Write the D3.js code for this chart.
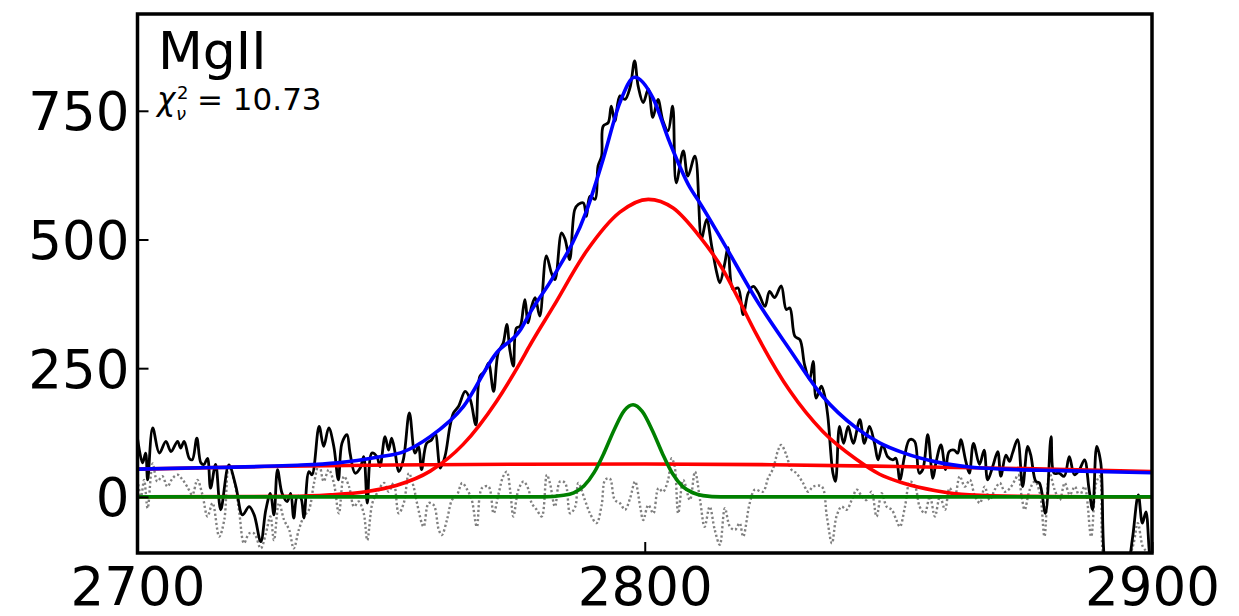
<!DOCTYPE html>
<html>
<head>
<meta charset="utf-8">
<script src="https://cdn.jsdelivr.net/npm/d3@7"></script>
<style>
  body { margin: 0; background: #fff; }
  svg text { font-family: "DejaVu Sans", sans-serif; fill: #000; }
</style>
</head>
<body>
<div class="chart-wrapper"></div>
<script>
// spectrum (wavelength, flux)
const specWave = [2700.0,2701.0,2701.6,2702.0,2703.0,2704.3,2705.6,2706.6,2707.9,2708.5,2709.2,2710.2,2710.8,2711.7,2712.5,2713.1,2713.8,2714.4,2715.4,2716.4,2718.0,2719.4,2720.7,2722.0,2723.0,2724.3,2725.3,2726.2,2726.9,2727.6,2728.5,2729.5,2730.2,2730.8,2731.5,2732.2,2732.8,2733.8,2734.4,2735.8,2736.7,2737.7,2738.7,2739.6,2740.3,2741.3,2741.9,2742.9,2743.9,2744.6,2745.3,2746.2,2747.2,2747.8,2748.8,2749.5,2750.1,2750.8,2751.5,2752.4,2753.6,2754.7,2755.4,2756.0,2757.0,2758.0,2758.7,2759.7,2760.6,2761.6,2762.3,2763.3,2764.6,2765.6,2766.7,2767.5,2768.5,2769.2,2770.2,2771.1,2772.1,2772.8,2773.4,2774.1,2774.7,2775.4,2776.1,2776.4,2777.0,2777.7,2778.4,2779.3,2780.6,2781.6,2782.3,2783.6,2784.3,2785.2,2786.2,2786.9,2787.9,2788.5,2789.2,2790.2,2790.8,2791.5,2791.8,2792.8,2793.4,2794.1,2795.1,2796.1,2797.1,2798.0,2798.7,2799.7,2800.7,2801.6,2802.6,2803.6,2804.6,2805.5,2806.2,2807.6,2808.5,2809.9,2811.2,2812.2,2813.2,2814.2,2814.8,2815.8,2816.4,2817.4,2818.4,2819.4,2820.4,2821.4,2822.4,2823.7,2824.6,2825.6,2826.9,2827.9,2828.6,2829.6,2830.6,2831.5,2832.5,2833.2,2833.8,2834.8,2835.5,2836.1,2837.1,2837.6,2838.4,2839.2,2840.1,2841.1,2842.4,2843.3,2844.3,2845.3,2846.0,2846.9,2847.9,2848.9,2849.5,2850.3,2851.2,2852.2,2853.2,2854.1,2854.8,2855.8,2856.8,2857.4,2858.4,2859.3,2860.0,2861.0,2861.7,2862.3,2863.3,2864.0,2864.8,2866.0,2866.9,2867.6,2868.6,2869.6,2870.2,2871.2,2871.9,2872.5,2873.5,2874.5,2875.5,2876.1,2877.1,2877.8,2879.0,2880.1,2880.7,2881.7,2882.7,2883.7,2884.7,2885.7,2886.7,2887.6,2888.3,2889.1,2889.9,2890.8,2893.0,2895.4,2896.2,2897.3,2898.1,2898.8,2899.5,2900.0];
const specFlux = [114,66,85,33,134,85,108,88,108,95,108,75,72,114,66,63,75,17,63,-25,62,20,-35,-19,-35,-87,-25,7,-35,53,7,-9,7,-41,1,-2,-41,49,43,137,98,134,98,33,104,121,85,46,56,78,-12,85,78,59,117,91,114,85,49,72,163,85,98,53,104,111,124,56,78,137,163,176,205,189,140,234,244,260,205,280,299,335,286,254,328,331,370,383,338,370,387,351,468,435,422,513,500,461,558,568,571,545,584,578,643,662,720,727,759,730,779,772,795,847,798,766,792,737,772,730,711,759,610,672,623,662,503,539,487,435,416,455,484,403,406,354,396,409,396,370,399,387,410,364,367,312,305,257,228,263,192,215,195,156,46,30,137,104,137,104,150,104,137,104,72,101,78,72,75,33,78,111,108,46,53,121,36,66,101,53,88,91,85,111,69,46,104,63,91,33,59,88,40,81,69,85,111,20,98,81,30,27,-32,117,46,46,40,78,43,53,72,14,-25,98,66,-140,-220,-130,-77,4,-51,-29,-109,-140];

// residual (dotted grey)
const residWave = [2700.0,2700.7,2701.3,2702.0,2703.0,2703.9,2704.9,2705.9,2706.9,2707.9,2708.9,2709.8,2710.8,2711.8,2712.8,2713.8,2714.8,2716.1,2717.1,2718.0,2719.0,2720.0,2721.0,2722.0,2723.0,2724.3,2725.3,2726.2,2726.9,2727.9,2728.9,2729.9,2730.8,2731.8,2732.8,2733.8,2734.8,2735.8,2736.7,2737.7,2738.7,2739.7,2740.7,2741.7,2742.7,2743.6,2744.6,2745.3,2746.3,2747.2,2748.6,2749.5,2750.5,2751.5,2752.5,2753.5,2754.5,2755.1,2756.4,2757.4,2758.4,2759.4,2760.0,2761.0,2762.0,2763.0,2764.0,2765.0,2765.9,2766.9,2767.9,2769.2,2770.2,2771.2,2772.1,2772.8,2773.5,2774.1,2775.1,2776.1,2777.1,2777.7,2778.7,2779.7,2780.7,2781.3,2782.3,2783.3,2784.3,2785.3,2786.3,2786.9,2788.2,2789.2,2790.5,2791.5,2792.2,2793.1,2794.1,2795.1,2796.1,2797.1,2798.1,2799.1,2799.7,2800.7,2801.7,2802.7,2803.6,2804.6,2805.3,2805.9,2806.6,2807.6,2808.9,2809.9,2810.9,2811.8,2812.8,2813.8,2814.8,2815.8,2816.8,2817.8,2818.7,2819.4,2820.7,2821.7,2823.3,2824.3,2825.3,2826.3,2826.9,2827.9,2828.9,2829.9,2831.2,2832.2,2833.2,2834.9,2835.9,2836.9,2837.8,2838.8,2839.8,2840.8,2841.8,2842.8,2843.7,2844.7,2845.7,2846.7,2847.7,2848.7,2849.6,2850.3,2851.3,2852.3,2853.3,2854.2,2855.2,2856.2,2857.2,2858.2,2859.2,2860.1,2861.1,2862.1,2863.1,2864.1,2865.1,2866.1,2867.0,2868.0,2869.0,2870.0,2871.0,2872.0,2873.0,2873.6,2874.3,2874.9,2875.9,2876.9,2877.9,2878.8,2879.8,2880.8,2881.8,2882.8,2883.8,2884.8,2885.7,2886.7,2888.0,2889.0,2889.7,2890.3,2892.0,2896.2,2897.2,2898.2,2899.2,2900.0];
const residFlux = [33,1,33,-22,65,30,40,20,36,43,33,20,4,33,4,-38,-12,-77,-45,59,33,-25,-90,-71,-71,-100,-71,-38,-84,-12,-45,-64,-100,-64,-38,-25,27,65,30,53,27,-32,40,20,-19,-9,-32,-84,-12,7,27,10,27,-32,-12,46,17,-12,-58,-12,-16,-64,-74,-45,-6,4,27,14,-6,-58,17,20,-32,7,40,49,10,-38,14,30,14,-12,-25,-38,43,27,-19,30,27,-32,-19,27,-6,-32,-51,-16,33,36,-6,-12,-25,-3,30,-19,-45,-16,-32,17,10,33,75,59,-32,33,-6,49,-6,-58,-19,-64,-93,-22,-58,-64,-51,-77,-12,14,10,36,55,91,101,82,53,46,27,10,20,20,-38,-90,-38,-19,-25,-6,14,1,-6,10,-38,7,-19,-25,-45,-58,-19,30,20,-19,-32,1,-38,1,-25,17,1,40,20,33,1,-12,20,-6,14,27,10,17,33,43,1,-25,14,30,7,-77,46,14,-6,27,4,20,1,20,-77,27,40,-110,-200,-97,-51,-97,-110,-150];

// fitted components
const totalWave = [2700,2715,2730,2739.4,2747.8,2752,2757.7,2764.2,2770.8,2775.4,2777.4,2782,2788.5,2791.8,2795.1,2798,2801.6,2804.9,2808.9,2810.8,2815.5,2822,2828.6,2835.1,2841.7,2846.3,2850.9,2857.4,2864,2870.5,2881.7,2900];
const totalFlux = [54,57,61,66,78,86,117,175,280,323,358,428,555,656,766,815,775,689,601,572,494,383,286,195,134,105,86,68,58,54,51,47];

const broadWave = [2700,2730,2738,2745,2751,2757.7,2764.2,2770.8,2775.4,2777.4,2782,2788.5,2795.1,2800.7,2805.6,2810.8,2815.5,2818.5,2822,2828.6,2835.1,2841.7,2846.3,2850.9,2857.4,2864,2875,2900];
const broadFlux = [0,1,4,10,22,50,102,186,260,295,370,477,553,578,561,506,440,384,316,206,127,73,44,27,12,4,1,0];

const contWave = [2700,2725,2750,2775,2800,2825,2850,2875,2900];
const contFlux = [54,59,62,63.5,64,62.5,59,55,49];

const narrowWave = [2700,2780,2784,2786,2788,2790,2792,2794,2796,2797.7,2799.5,2801.5,2803.5,2805.5,2807.5,2809.5,2811.5,2815,2900];
const narrowFlux = [0,0,3,8,21,47,86,131,168,179,166,129,84,45,20,8,2.5,0,0];

const xTicks = [2700, 2800, 2900];
const yTicks = [0, 250, 500, 750];
const lineName = 'MgII';
const chi2 = '10.73';

const W = 1239, H = 616;
const pLeft = 137.5, pRight = 1152, pTop = 14, pBottom = 553;

const svg = d3.select('.chart-wrapper').append('svg')
.attr('width', W)
.attr('height', H)

const x = d3.scaleLinear().domain([2700, 2900]).range([pLeft, pRight])
const y = d3.scaleLinear().domain([-109, 938]).range([pBottom, pTop])

svg.append('defs').append('clipPath').attr('id', 'plot-clip')
.append('rect')
.attr('x', pLeft).attr('y', pTop)
.attr('width', pRight - pLeft).attr('height', pBottom - pTop)

const zip = (ws, fs) => ws.map((w, i) => [w, fs[i]])

const rough = d3.line().x(d => x(d[0])).y(d => y(d[1])).curve(d3.curveCatmullRom.alpha(0.5))
const smooth = d3.line().x(d => x(d[0])).y(d => y(d[1])).curve(d3.curveMonotoneX)

let g = svg.append('g').attr('clip-path', 'url(#plot-clip)')

// residual
g.append('path')
.attr('d', rough(zip(residWave, residFlux)))
.attr('fill', 'none')
.attr('stroke', '#808080')
.attr('stroke-width', 2.4)
.attr('stroke-dasharray', '2.2,2.4')

// data
g.append('path')
.attr('d', rough(zip(specWave, specFlux)))
.attr('fill', 'none')
.attr('stroke', '#000')
.attr('stroke-width', 2.8)

// broad + continuum (red)
g.append('path')
.attr('d', smooth(zip(broadWave, broadFlux)))
.attr('fill', 'none')
.attr('stroke', '#ff0000')
.attr('stroke-width', 3.6)

g.append('path')
.attr('d', smooth(zip(contWave, contFlux)))
.attr('fill', 'none')
.attr('stroke', '#ff0000')
.attr('stroke-width', 3.6)

// narrow (green)
g.append('path')
.attr('d', smooth(zip(narrowWave, narrowFlux)))
.attr('fill', 'none')
.attr('stroke', '#008000')
.attr('stroke-width', 3.6)

// total model (blue)
g.append('path')
.attr('d', smooth(zip(totalWave, totalFlux)))
.attr('fill', 'none')
.attr('stroke', '#0000ff')
.attr('stroke-width', 3.6)

// axes, ticks pointing inward
let xAxis = svg.append('g')
.attr('transform', 'translate(0,' + pBottom + ')')
.call(d3.axisBottom(x).tickValues(xTicks).tickSize(-11).tickPadding(14).tickFormat(d3.format('d')))

let yAxis = svg.append('g')
.attr('transform', 'translate(' + pLeft + ',0)')
.call(d3.axisLeft(y).tickValues(yTicks).tickSize(-11).tickPadding(8).tickFormat(d3.format('d')))

svg.selectAll('.domain').remove()
svg.selectAll('.tick line').attr('stroke', '#000').attr('stroke-width', 2)
svg.selectAll('.tick text')
.style('font-family', '"DejaVu Sans", sans-serif')
.style('font-size', '53px')
.attr('fill', '#000')

xAxis.selectAll('.tick text').attr('dy', '0.71em')
yAxis.selectAll('.tick text').attr('dy', '0.36em')

// frame
svg.append('rect')
.attr('x', pLeft).attr('y', pTop)
.attr('width', pRight - pLeft).attr('height', pBottom - pTop)
.attr('fill', 'none')
.attr('stroke', '#000')
.attr('stroke-width', 3.5)

// labels
svg.append('text')
.attr('x', 158).attr('y', 69)
.style('font-size', '52px')
.text(lineName)

let chi = svg.append('text').attr('y', 110).style('font-size', '31px')
chi.append('tspan').attr('x', 157).style('font-style', 'italic').text('χ')
chi.append('tspan').attr('x', 177).attr('y', 99).style('font-size', '18px').text('2')
chi.append('tspan').attr('x', 176).attr('y', 120).style('font-size', '18px').style('font-style', 'italic').text('ν')
chi.append('tspan').attr('x', 197).attr('y', 110).text('= ' + chi2)
</script>
</body>
</html>
